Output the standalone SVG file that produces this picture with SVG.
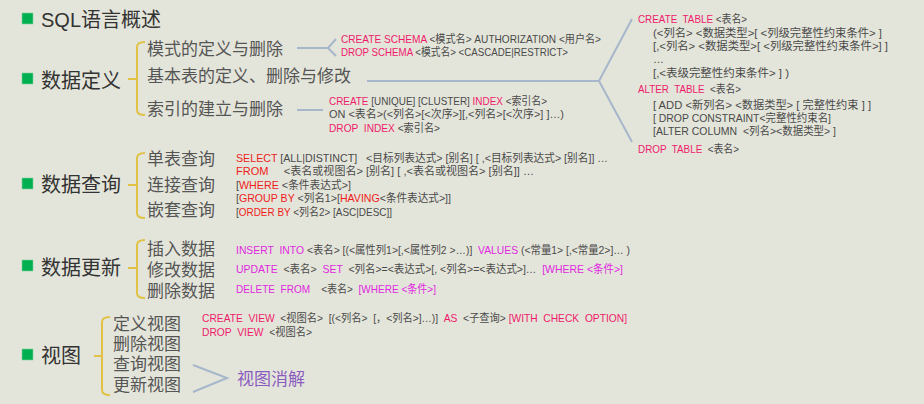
<svg xmlns="http://www.w3.org/2000/svg" width="924" height="404" viewBox="0 0 924 404">
<style>
.bg{fill:#E4E5DA}
.sq{fill:#00B050;stroke:#7FD09F;stroke-width:0.6}
.h1{font-family:"Liberation Sans","Noto Sans CJK SC",sans-serif;font-size:20px;fill:#333}
.h2{font-family:"Noto Sans CJK SC","Liberation Sans",sans-serif;font-size:17px;fill:#555}
.c{font-family:"Liberation Sans","Noto Sans CJK SC",sans-serif;font-size:11px;fill:#4a4a4a}
.k{fill:#EE1A6A}
.r{fill:#EE1C1C}
.m{fill:#E028E0}
.brace{fill:none;stroke:#E1C246;stroke-width:2}
.ln{fill:none;stroke:#A6B7CB;stroke-width:2}
.pur{font-family:"Noto Sans CJK SC",sans-serif;font-size:17px;fill:#8A5CC0}
</style>
<rect class="bg" x="0" y="0" width="924" height="404"/>

<g id="connectors">
  <path class="ln" d="M297,48 L328,48 M336,39 L328,48 L336,56"/>
  <path class="ln" d="M367,81 L599,81 M632,19 L599,81 L632,142"/>
  <path class="ln" d="M297,110 L323,110"/>
  <path class="ln" d="M193,365 L227,378 L193,392"/>
</g>

<g id="sql-overview">
  <rect class="sq" x="22" y="13" width="11" height="11"/>
  <text class="h1" x="41" y="27">SQL语言概述</text>
</g>

<g id="data-definition">
  <rect class="sq" x="22" y="73" width="11" height="11"/>
  <text class="h1" x="41" y="88">数据定义</text>
  <path class="brace" d="M145,42 Q137,42 137,47 L137,110 Q137,115 145,115 M128,79 L137,79"/>
  <text class="h2" x="147" y="55">模式的定义与删除</text>
  <text class="h2" x="147" y="82">基本表的定义、删除与修改</text>
  <text class="h2" x="147" y="115">索引的建立与删除</text>
</g>

<g id="schema-sql">
  <text class="c" x="341" y="43" xml:space="preserve" textLength="260" lengthAdjust="spacingAndGlyphs"><tspan class="k">CREATE SCHEMA</tspan> &lt;模式名&gt; AUTHORIZATION &lt;用户名&gt;</text>
  <text class="c" x="341" y="56" xml:space="preserve" textLength="227" lengthAdjust="spacingAndGlyphs"><tspan class="k">DROP SCHEMA</tspan> &lt;模式名&gt; &lt;CASCADE|RESTRICT&gt;</text>
</g>

<g id="index-sql">
  <text class="c" x="329" y="105" xml:space="preserve" textLength="218" lengthAdjust="spacingAndGlyphs"><tspan class="k">CREATE</tspan> [UNIQUE] [CLUSTER] <tspan class="k">INDEX</tspan> &lt;索引名&gt;</text>
  <text class="c" x="329" y="118" xml:space="preserve" textLength="235" lengthAdjust="spacingAndGlyphs">ON &lt;表名&gt;(&lt;列名&gt;[&lt;次序&gt;][,&lt;列名&gt;[&lt;次序&gt;] ]…)</text>
  <text class="c" x="329" y="132" xml:space="preserve" textLength="111" lengthAdjust="spacingAndGlyphs"><tspan class="k">DROP  INDEX</tspan> &lt;索引名&gt;</text>
</g>

<g id="table-sql">
  <text class="c" x="638" y="23" xml:space="preserve" textLength="109" lengthAdjust="spacingAndGlyphs"><tspan class="k">CREATE  TABLE</tspan> &lt;表名&gt;</text>
  <text class="c" x="653" y="37" xml:space="preserve" textLength="229" lengthAdjust="spacingAndGlyphs">(&lt;列名&gt; &lt;数据类型&gt;[ &lt;列级完整性约束条件&gt; ]</text>
  <text class="c" x="653" y="50" xml:space="preserve" textLength="235" lengthAdjust="spacingAndGlyphs">[,&lt;列名&gt; &lt;数据类型&gt;[ &lt;列级完整性约束条件&gt;] ]</text>
  <text class="c" x="653" y="63">…</text>
  <text class="c" x="653" y="77" xml:space="preserve" textLength="136" lengthAdjust="spacingAndGlyphs">[,&lt;表级完整性约束条件&gt; ] )</text>
  <text class="c" x="638" y="93" xml:space="preserve" textLength="103" lengthAdjust="spacingAndGlyphs"><tspan class="k">ALTER  TABLE</tspan>  &lt;表名&gt;</text>
  <text class="c" x="653" y="109" xml:space="preserve" textLength="218" lengthAdjust="spacingAndGlyphs">[ ADD &lt;新列名&gt; &lt;数据类型&gt; [ 完整性约束 ] ]</text>
  <text class="c" x="653" y="122" xml:space="preserve" textLength="178" lengthAdjust="spacingAndGlyphs">[ DROP CONSTRAINT&lt;完整性约束名]</text>
  <text class="c" x="653" y="135" xml:space="preserve" textLength="183" lengthAdjust="spacingAndGlyphs">[ALTER COLUMN  &lt;列名&gt;&lt;数据类型&gt; ]</text>
  <text class="c" x="638" y="153" xml:space="preserve" textLength="101" lengthAdjust="spacingAndGlyphs"><tspan class="k">DROP  TABLE</tspan>  &lt;表名&gt;</text>
</g>

<g id="data-query">
  <rect class="sq" x="22" y="178" width="11" height="11"/>
  <text class="h1" x="41" y="192">数据查询</text>
  <path class="brace" d="M145,153 Q137,153 137,158 L137,213 Q137,218 145,218 M128,185 L137,185"/>
  <text class="h2" x="147" y="165">单表查询</text>
  <text class="h2" x="147" y="191">连接查询</text>
  <text class="h2" x="147" y="216">嵌套查询</text>
</g>

<g id="select-sql">
  <text class="c" x="236" y="162" xml:space="preserve" textLength="372" lengthAdjust="spacingAndGlyphs"><tspan class="r">SELECT</tspan> [ALL|DISTINCT]   &lt;目标列表达式&gt; [别名] [ ,&lt;目标列表达式&gt; [别名]] …</text>
  <text class="c" x="236" y="175" xml:space="preserve" textLength="298" lengthAdjust="spacingAndGlyphs"><tspan class="r">FROM</tspan>     &lt;表名或视图名&gt; [别名] [ ,&lt;表名或视图名&gt; [别名]] …</text>
  <text class="c" x="236" y="189" xml:space="preserve" textLength="115" lengthAdjust="spacingAndGlyphs">[<tspan class="r">WHERE</tspan> &lt;条件表达式&gt;]</text>
  <text class="c" x="236" y="202" xml:space="preserve" textLength="215" lengthAdjust="spacingAndGlyphs">[<tspan class="r">GROUP BY</tspan> &lt;列名1&gt;[<tspan class="r">HAVING</tspan>&lt;条件表达式&gt;]]</text>
  <text class="c" x="236" y="216" xml:space="preserve" textLength="156" lengthAdjust="spacingAndGlyphs">[<tspan class="r">ORDER BY</tspan> &lt;列名2&gt; [ASC|DESC]]</text>
</g>

<g id="data-update">
  <rect class="sq" x="22" y="260" width="11" height="11"/>
  <text class="h1" x="41" y="275">数据更新</text>
  <path class="brace" d="M145,240 Q137,240 137,245 L137,293 Q137,298 145,298 M128,268 L137,268"/>
  <text class="h2" x="147" y="255">插入数据</text>
  <text class="h2" x="147" y="276">修改数据</text>
  <text class="h2" x="147" y="297">删除数据</text>
</g>

<g id="update-sql">
  <text class="c" x="236" y="254" xml:space="preserve" textLength="394" lengthAdjust="spacingAndGlyphs"><tspan class="m">INSERT  INTO</tspan> &lt;表名&gt; [(&lt;属性列1&gt;[,&lt;属性列2 &gt;…)]  <tspan class="m">VALUES</tspan> (&lt;常量1&gt; [,&lt;常量2&gt;]… )</text>
  <text class="c" x="236" y="273" xml:space="preserve" textLength="387" lengthAdjust="spacingAndGlyphs"><tspan class="m">UPDATE</tspan>  &lt;表名&gt;  <tspan class="m">SET</tspan>  &lt;列名&gt;=&lt;表达式&gt;[, &lt;列名&gt;=&lt;表达式&gt;]…  <tspan class="m">[WHERE &lt;条件&gt;]</tspan></text>
  <text class="c" x="236" y="293" xml:space="preserve" textLength="200" lengthAdjust="spacingAndGlyphs"><tspan class="m">DELETE  FROM</tspan>    &lt;表名&gt;  <tspan class="m">[WHERE &lt;条件&gt;]</tspan></text>
</g>

<g id="view">
  <rect class="sq" x="22" y="349" width="11" height="11"/>
  <text class="h1" x="41" y="363">视图</text>
  <path class="brace" d="M110,317 Q102,317 102,322 L102,390 Q102,395 110,395 M94,356 L102,356"/>
  <text class="h2" x="113" y="330">定义视图</text>
  <text class="h2" x="113" y="350">删除视图</text>
  <text class="h2" x="113" y="370">查询视图</text>
  <text class="h2" x="113" y="391">更新视图</text>
</g>

<g id="view-sql">
  <text class="c" x="202" y="322" xml:space="preserve" textLength="425" lengthAdjust="spacingAndGlyphs"><tspan class="k">CREATE  VIEW</tspan>  &lt;视图名&gt;  [(&lt;列名&gt;  [，&lt;列名&gt;]…)]  <tspan class="k">AS</tspan>  &lt;子查询&gt; <tspan class="k">[WITH  CHECK  OPTION]</tspan></text>
  <text class="c" x="202" y="336" xml:space="preserve" textLength="110" lengthAdjust="spacingAndGlyphs"><tspan class="k">DROP  VIEW</tspan>  &lt;视图名&gt;</text>
</g>

<g id="view-resolution">
  <text class="pur" x="237" y="385">视图消解</text>
</g>
</svg>
